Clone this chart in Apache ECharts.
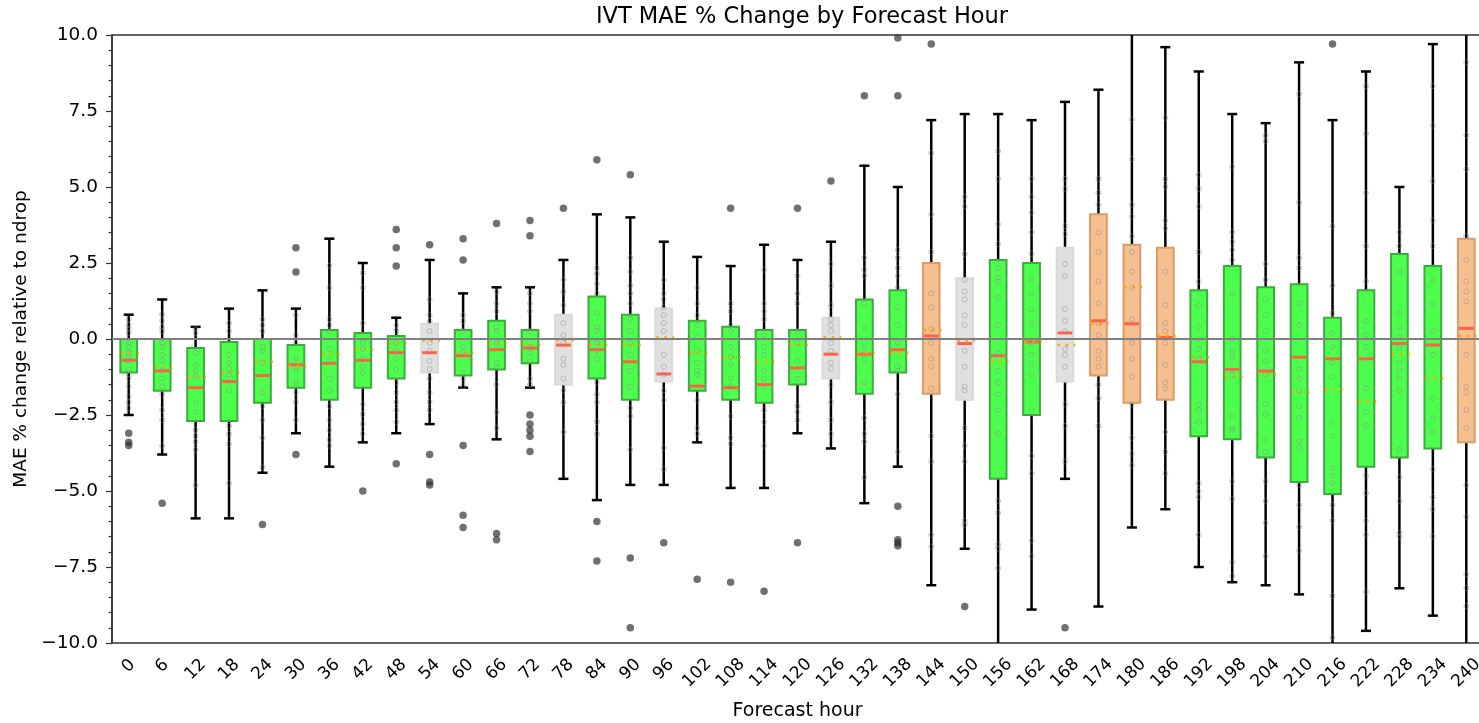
<!DOCTYPE html>
<html>
<head>
<meta charset="utf-8">
<title>IVT MAE % Change by Forecast Hour</title>
<script src="https://cdn.jsdelivr.net/npm/echarts@6/dist/echarts.min.js"></script>
<style>
  html, body { margin: 0; padding: 0; background: #fff; }
  #chart { width: 1479px; height: 723px; }
</style>
</head>
<body>
<div id="chart"></div>
<script>
// forecast hours (x categories)
const hours = [0, 6, 12, 18, 24, 30, 36, 42, 48, 54, 60, 66, 72, 78, 84, 90, 96, 102, 108, 114,
  120, 126, 132, 138, 144, 150, 156, 162, 168, 174, 180, 186, 192, 198, 204, 210, 216, 222, 228, 234, 240]

const yTicks = [-10, -7.5, -5, -2.5, 0, 2.5, 5, 7.5, 10]

// box stats (whisker ends past +/-10 are clipped by the axis)
const whiskerLow = [-2.5, -3.8, -5.9, -5.9, -4.4, -3.1, -4.2, -3.4, -3.1, -2.8, -1.6, -3.3, -1.6, -4.6, -5.3, -4.8, -4.8, -3.4, -4.9, -4.9,
  -3.1, -3.6, -5.4, -4.2, -8.1, -6.9, -10.5, -8.9, -4.6, -8.8, -6.2, -5.6, -7.5, -8.0, -8.1, -8.4, -10.5, -9.6, -8.2, -9.1, -10.5]
const q1 = [-1.1, -1.7, -2.7, -2.7, -2.1, -1.6, -2.0, -1.6, -1.3, -1.1, -1.2, -1.0, -0.8, -1.5, -1.3, -2.0, -1.4, -1.7, -2.0, -2.1,
  -1.5, -1.3, -1.8, -1.1, -1.8, -2.0, -4.6, -2.5, -1.4, -1.2, -2.1, -2.0, -3.2, -3.3, -3.9, -4.7, -5.1, -4.2, -3.9, -3.6, -3.4]
const medians = [-0.7, -1.05, -1.6, -1.4, -1.2, -0.85, -0.8, -0.7, -0.45, -0.45, -0.55, -0.35, -0.3, -0.2, -0.35, -0.75, -1.15, -1.55, -1.6, -1.5,
  -0.95, -0.5, -0.5, -0.35, 0.1, -0.15, -0.55, -0.1, 0.2, 0.6, 0.5, 0.05, -0.75, -1.0, -1.05, -0.6, -0.65, -0.65, -0.15, -0.2, 0.35]
const q3 = [0.0, 0.0, -0.3, -0.1, 0.0, -0.2, 0.3, 0.2, 0.1, 0.5, 0.3, 0.6, 0.3, 0.8, 1.4, 0.8, 1.0, 0.6, 0.4, 0.3,
  0.3, 0.7, 1.3, 1.6, 2.5, 2.0, 2.6, 2.5, 3.0, 4.1, 3.1, 3.0, 1.6, 2.4, 1.7, 1.8, 0.7, 1.6, 2.8, 2.4, 3.3]
const whiskerHigh = [0.8, 1.3, 0.4, 1.0, 1.6, 1.0, 3.3, 2.5, 0.7, 2.6, 1.5, 1.7, 1.7, 2.6, 4.1, 4.0, 3.2, 2.7, 2.4, 3.1,
  2.6, 3.2, 5.7, 5.0, 7.2, 7.4, 7.4, 7.2, 7.8, 8.2, 10.5, 9.6, 8.8, 7.4, 7.1, 9.1, 7.2, 8.8, 5.0, 9.7, 10.5]
const means = [-0.45, -0.95, -1.25, -1.1, -0.75, -0.9, -0.5, -0.35, -0.15, -0.05, -0.45, -0.15, -0.2, -0.05, -0.2, -0.2, 0.05, -0.45, -0.6, -0.75,
  -0.2, 0.05, -0.45, -0.45, 0.3, -0.05, -0.75, -0.1, -0.2, 0.5, 1.7, 0.1, -0.6, -1.25, -1.15, -1.75, -1.65, -2.05, -0.5, -1.3, 0.1]

// 0 = better (green), 1 = no clear change (grey), 2 = worse (orange)
const boxGroup = [0, 0, 0, 0, 0, 0, 0, 0, 0, 1, 0, 0, 0, 1, 0, 0, 1, 0, 0, 0,
  0, 1, 0, 0, 2, 1, 0, 0, 1, 2, 2, 2, 0, 0, 0, 0, 0, 0, 0, 0, 2]

// fliers: [forecast hour, value]
const outliers = [
  [0, -3.1], [0, -3.4], [0, -3.5], [6, -5.4], [24, -6.1],
  [30, 3.0], [30, 2.2], [30, -3.8], [42, -5.0],
  [48, 3.6], [48, 3.0], [48, 2.4], [48, -4.1],
  [54, 3.1], [54, -3.8], [54, -4.7], [54, -4.8],
  [60, 3.3], [60, 2.6], [60, -3.5], [60, -5.8], [60, -6.2],
  [66, 3.8], [66, -6.4], [66, -6.6],
  [72, 3.9], [72, 3.4], [72, -2.5], [72, -2.8], [72, -3.0], [72, -3.2], [72, -3.7],
  [78, 4.3], [84, 5.9], [84, -6.0], [84, -7.3], [90, 5.4], [90, -7.2], [90, -9.5],
  [96, -6.7], [102, -7.9], [108, 4.3], [108, -8.0], [114, -8.3],
  [120, 4.3], [120, -6.7], [126, 5.2], [132, 8.0],
  [138, 9.9], [138, 8.0], [138, -5.5], [138, -6.6], [138, -6.7], [138, -6.8],
  [144, 9.7], [150, -8.8], [168, -9.5], [216, 9.7]
]

// individual cases drawn as faint rings, one list per forecast hour
const caseValues = [
  [0.65, 0.46, 0.33, 0.2, -0.13, -0.26, -0.46, -0.59, -0.72, -1.01, -1.17, -1.3, -1.56, -1.89, -2.08, -2.28],
  [0.81, 0.59, 0.39, 0.26, -0.13, -0.26, -0.52, -0.72, -1.04, -1.3, -1.56, -1.82, -2.34, -2.67, -3.51],
  [0.33, 0.2, -0.46, -0.85, -1.04, -1.24, -2.08, -2.41, -2.99, -3.19, -3.38, -3.64, -4.81],
  [0.52, 0.26, -0.52, -0.78, -0.98, -1.17, -1.69, -2.86, -3.12, -3.45, -4.75],
  [0.65, 0.46, 0.26, -0.26, -0.39, -0.78, -1.76, -2.21, -2.67, -3.25, -4.23],
  [0.78, 0.13, -0.13, -0.65, -1.04, -1.43, -1.76, -2.08, -2.67],
  [2.41, 1.69, 0.65, 0.46, 0.26, -0.33, -0.72, -1.3, -1.69, -2.21, -2.67, -2.99, -3.32, -3.51],
  [2.18, 1.69, 0.52, -0.13, -0.33, -0.65, -0.91, -1.11, -2.15, -2.47, -2.8, -3.12],
  [0.46, 0.26, -0.13, -0.39, -0.65, -1.01, -1.43, -1.76, -2.08, -2.34, -2.73],
  [1.3, 0.78, 0.59, 0.26, -0.13, -0.39, -0.72, -0.98, -1.3, -1.76, -2.08, -2.34],
  [0.78, 0.59, 0.26, -0.26, -0.46, -1.11, -1.3, -1.56],
  [1.56, 1.17, 0.91, 0.39, 0.26, -0.13, -0.78, -0.91, -1.5, -2.41, -2.93],
  [1.5, 1.17, 0.91, 0.26, -0.26, -0.46, -0.72, -1.3, -1.5],
  [1.95, 1.56, 1.11, 0.52, 0.13, -0.13, -0.65, -0.85, -1.3, -1.69, -2.08, -3.06],
  [2.34, 2.15, 1.82, 1.5, 0.85, 0.39, 0.26, -0.13, -0.39, -0.65, -1.43, -1.82, -2.08, -2.73, -3.12],
  [2.67, 2.21, 1.76, 1.5, 1.17, 0.65, 0.26, -0.13, -0.52, -1.04, -1.56, -2.28, -2.54, -3.64],
  [1.95, 1.5, 1.3, 1.04, 0.78, 0.52, 0.26, -0.52, -0.91, -1.17, -1.69, -2.02, -3.58, -4.29],
  [1.69, 1.17, 0.78, 0.46, 0.07, -0.39, -0.78, -1.04, -1.17, -2.02, -2.93, -3.12],
  [1.17, 0.91, 0.46, 0.26, -0.26, -0.59, -0.85, -1.3, -1.56, -2.54, -3.25, -3.45],
  [2.28, 1.17, 0.91, 0.65, 0.13, -0.26, -0.52, -1.04, -1.3, -1.56, -2.34, -2.73, -3.51],
  [2.08, 1.5, 1.17, 0.26, -0.13, -0.72, -1.3, -2.21, -2.41, -2.67],
  [2.47, 1.76, 1.11, 0.65, 0.46, 0.26, -0.13, -0.39, -0.78, -0.98, -1.5, -2.08, -2.67, -3.12],
  [2.67, 2.28, 2.08, 1.17, 0.39, -0.26, -0.65, -1.43, -2.6, -3.12, -3.38, -4.55],
  [2.93, 2.67, 2.34, 2.08, 1.69, 1.04, 0.46, -0.13, -0.91, -1.04, -1.82, -3.71],
  [6.11, 4.1, 2.86, 1.5, 1.04, 0.33, -0.13, -0.65, -0.91, -1.63, -3.19, -4.03, -6.44, -6.83],
  [4.68, 4.36, 2.8, 1.95, 1.56, 1.3, 0.78, 0.46, -0.39, -0.91, -1.56, -1.69, -2.93, -3.51, -4.03, -5.98, -6.11],
  [6.18, 5.27, 3.77, 3.12, 2.34, 2.02, 1.89, 1.37, 0.46, -0.46, -1.04, -1.43, -1.82, -2.34, -3.12, -5.33, -5.72, -6.76, -6.89, -7.54],
  [5.27, 4.68, 4.16, 3.51, 2.8, 1.95, 1.5, 0.98, 0.52, -0.13, -0.52, -0.85, -1.17, -2.34, -3.84, -4.42, -6.63, -7.15],
  [5.27, 4.94, 3.71, 3.45, 2.47, 2.08, 0.98, 0.59, 0.26, -0.33, -0.52, -0.91, -2.15, -2.86, -4.03],
  [5.27, 4.81, 4.42, 3.51, 2.86, 1.89, 1.17, 0.52, 0.13, -0.39, -0.65, -0.91, -1.5, -1.95, -2.86],
  [7.22, 5.92, 4.42, 4.03, 3.38, 2.86, 2.21, 1.69, 0.65, -0.13, -0.65, -1.24, -2.15, -3.25, -3.77, -4.16],
  [7.28, 5.27, 5.01, 3.9, 3.64, 2.21, 1.11, 0.52, 0.26, -0.13, -0.85, -1.43, -1.63, -3.06, -3.71, -4.42],
  [5.4, 4.94, 4.36, 2.86, 1.89, 1.11, 0.39, 0, -0.33, -0.65, -2.15, -2.34, -2.73, -4.75, -5.01, -5.2, -6.44],
  [5.66, 3.51, 3.19, 2.93, 2.6, 1.5, 0, -0.39, -0.59, -1.17, -2.54, -2.93, -2.99, -4.68, -5.27, -7.35, -7.8],
  [6.7, 6.5, 2.47, 1.95, 1.3, 0.78, 0.26, -0.39, -0.72, -1.17, -2.15, -2.47, -3.32, -3.71, -4.68, -5.33, -6.05, -7.15],
  [8.06, 4.49, 2.67, 2.34, 1.17, 0.46, -0.98, -1.3, -1.69, -2.21, -2.6, -3.38, -3.58, -4.81, -5.46, -6.18, -6.96],
  [3.71, 1.76, 0.85, 0.2, -0.26, -0.78, -1.24, -2.73, -3.19, -4.23, -4.49, -4.75, -5.46, -5.98, -8.45, -9.82],
  [8.32, 6.76, 4.81, 3.06, 1.89, 0.59, 0.13, -0.26, -1.63, -2.41, -2.86, -4.49, -5.07, -5.98, -6.44, -8.32],
  [3.51, 3.06, 2.21, 0.85, 0.39, 0.07, -0.26, -0.78, -1.04, -1.3, -1.69, -3.64, -4.55, -5.33, -6.37, -6.5],
  [8.32, 7.02, 5.2, 3.9, 3.06, 1.95, 1.17, 0.26, -0.52, -1.95, -2.6, -3.06, -4.29, -5.2, -5.59, -6.5],
  [9.1, 6.7, 5.59, 3.38, 2.6, 1.89, 1.56, 1.24, -0.52, -1.56, -1.76, -2.34, -2.93, -4.81, -5.85, -7.74, -8.19, -8.78]
]

const boxFill = ['#4dff4d', '#e0e0e0', '#f6bf90']
const boxEdge = ['#3dab3d', '#d9d9d9', '#d99c66']

const fmtTick = (v) => (v < 0 ? '\u2212' : '') + Math.abs(v).toFixed(1)

const renderBox = (params, api) => {
  const i = api.value(0)
  const g = api.value(7)
  const bw = api.size([1, 0])[0] * 0.5
  const cap = bw * 0.6
  const cx = api.coord([i, 0])[0]
  const y = (k) => api.coord([i, api.value(k)])[1]
  const pLo = y(1), pQ1 = y(2), pMed = y(3), pQ3 = y(4), pHi = y(5), pMean = y(6)
  const black = { stroke: '#000', lineWidth: 2.5 }
  return {
    type: 'group',
    children: [
      { type: 'line', shape: { x1: cx, y1: pHi, x2: cx, y2: pQ3 }, style: black },
      { type: 'line', shape: { x1: cx, y1: pQ1, x2: cx, y2: pLo }, style: black },
      { type: 'line', shape: { x1: cx - cap / 2, y1: pHi, x2: cx + cap / 2, y2: pHi }, style: black },
      { type: 'line', shape: { x1: cx - cap / 2, y1: pLo, x2: cx + cap / 2, y2: pLo }, style: black },
      {
        type: 'rect',
        shape: { x: cx - bw / 2, y: pQ3, width: bw, height: pQ1 - pQ3 },
        style: { fill: boxFill[g], stroke: boxEdge[g], lineWidth: 2 }
      },
      {
        type: 'line',
        shape: { x1: cx - bw / 2 + 1, y1: pMed, x2: cx + bw / 2 - 1, y2: pMed },
        style: { stroke: '#ff6347', lineWidth: 3 }
      },
      {
        type: 'line',
        shape: { x1: cx - bw / 2 + 1, y1: pMean, x2: cx + bw / 2 + 2, y2: pMean },
        style: { stroke: '#ffa500', lineWidth: 2.5, lineDash: [2.5, 5.5] }
      }
    ]
  }
}

const boxData = hours.map((h, i) => [i, whiskerLow[i], q1[i], medians[i], q3[i], whiskerHigh[i], means[i], boxGroup[i]])

const caseData = []
caseValues.forEach((vals, i) => vals.forEach(v => caseData.push([i, v])))

const outlierData = outliers.map(o => [hours.indexOf(o[0]), o[1]])

const labelRich = {
  a: { fontSize: 17, color: '#000', fontFamily: 'DejaVu Sans', padding: [0, 0, 0, 0] },
  b: { fontSize: 17, color: '#000', fontFamily: 'DejaVu Sans', padding: [5, 5, 0, 0] },
  c: { fontSize: 17, color: '#000', fontFamily: 'DejaVu Sans', padding: [10, 10, 0, 0] }
}

const chart = echarts.init(document.getElementById('chart'))

chart.setOption({
  animation: false,
  backgroundColor: '#fff',
  textStyle: { fontFamily: 'DejaVu Sans' },
  title: {
    text: 'IVT MAE % Change by Forecast Hour',
    left: 797,
    top: 1,
    textAlign: 'center',
    textStyle: { fontSize: 22.5, fontWeight: 'normal', color: '#000', fontFamily: 'DejaVu Sans' }
  },
  grid: {
    left: 112,
    top: 35,
    width: 1371,
    height: 608,
    outerBoundsMode: 'none',
    show: true,
    borderColor: '#333',
    borderWidth: 1.5
  },
  xAxis: {
    type: 'category',
    data: hours.map(String),
    name: 'Forecast hour',
    nameLocation: 'middle',
    nameGap: 59,
    nameTextStyle: { fontSize: 19, color: '#000' },
    axisLine: { lineStyle: { color: '#333', width: 1.5 } },
    axisTick: { alignWithLabel: true, length: 6, lineStyle: { color: '#333', width: 1.2 } },
    axisLabel: {
      interval: 0,
      rotate: 45,
      align: 'center',
      verticalAlign: 'middle',
      margin: 23,
      formatter: (v) => {
        const key = v.length === 1 ? 'a' : (v.length === 2 ? 'b' : 'c')
        return `{${key}|${v}}`
      },
      rich: labelRich
    },
    splitLine: { show: false }
  },
  yAxis: {
    type: 'value',
    min: yTicks[0],
    max: yTicks[yTicks.length - 1],
    interval: 2.5,
    name: 'MAE % change relative to ndrop',
    nameLocation: 'middle',
    nameRotate: 90,
    nameGap: 80,
    nameTextStyle: { fontSize: 18.5, color: '#000' },
    axisLine: { show: true, lineStyle: { color: '#333', width: 1.5 } },
    axisTick: { show: true, length: 6, lineStyle: { color: '#333', width: 1.2 } },
    minorTick: { show: true, splitNumber: 5, length: 3.5, lineStyle: { color: '#333', width: 1.2 } },
    axisLabel: { fontSize: 18.5, color: '#000', margin: 14, formatter: fmtTick },
    splitLine: { show: false }
  },
  series: [
    {
      type: 'custom',
      name: 'boxes',
      renderItem: renderBox,
      clip: true,
      encode: { x: 0, y: [1, 2, 3, 4, 5] },
      data: boxData,
      z: 2
    },
    {
      type: 'scatter',
      name: 'cases',
      data: caseData,
      symbol: 'circle',
      symbolSize: 5,
      itemStyle: { color: 'rgba(0,0,0,0)', borderColor: 'rgba(140,140,140,0.6)', borderWidth: 1 },
      z: 3,
      silent: true,
      markLine: {
        silent: true,
        symbol: 'none',
        label: { show: false },
        lineStyle: { color: '#808080', width: 2, type: 'solid' },
        data: [{ yAxis: 0 }]
      }
    },
    {
      type: 'scatter',
      name: 'outliers',
      data: outlierData,
      symbol: 'circle',
      symbolSize: 7.5,
      itemStyle: { color: 'rgba(45,45,45,0.85)' },
      z: 4
    }
  ]
})
</script>
</body>
</html>
